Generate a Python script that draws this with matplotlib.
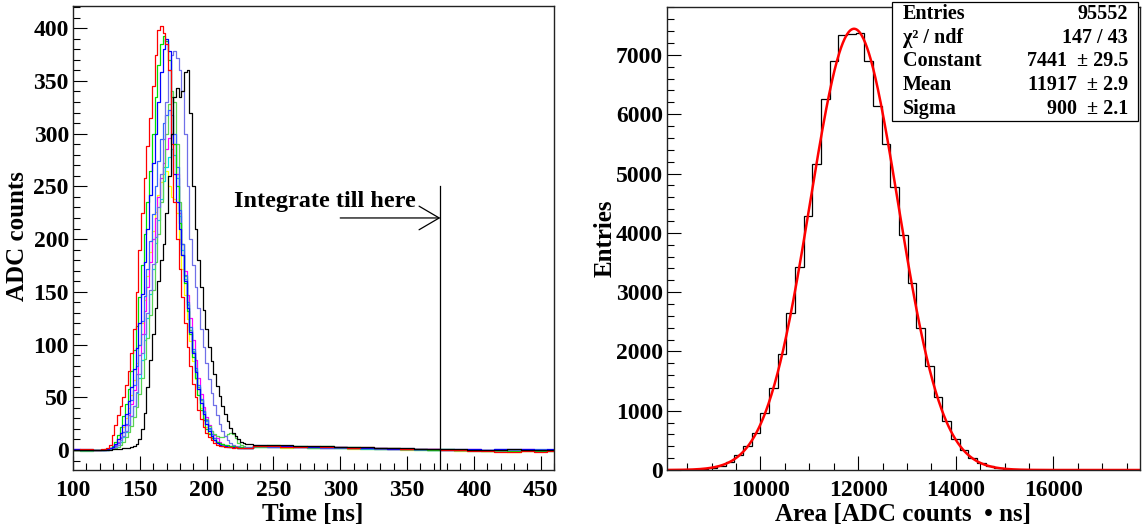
import numpy as np
import matplotlib
matplotlib.use("Agg")
import matplotlib.pyplot as plt
from matplotlib.ticker import MultipleLocator
from matplotlib.patches import Rectangle

plt.rcParams['font.family'] = ['Liberation Serif', 'DejaVu Serif']
plt.rcParams['font.weight'] = 'bold'

# ---------------- waveform data (ADC counts) ----------------
# sampling grid: coarse before the pulse, 2 ns across the pulse, coarse tail
t_pre = np.arange(100, 120, 10)
t_pulse = np.arange(120, 232, 2)
t_tail = np.arange(240, 470, 10)

red_pre = [0, 1]
red_pulse = [0, 1, 1, 2, 5, 14, 24, 33,
             42, 50, 62, 75, 92, 115, 150, 190,
             225, 258, 288, 315, 345, 375, 398, 402,
             395, 385, 360, 290, 235, 200, 172, 145,
             120, 98, 80, 63, 50, 38, 29, 22,
             16, 12, 9, 7, 5, 4, 4, 3,
             3, 3, 2, 3, 2, 2, 2, 2]
red_tail = [4, 4, 3, 3, 4, 3, 3, 2, 3, 2, 2, 1, 1, 1, 0, 0, -1, -1, -2, -2, -1, -2, -1]

green_pre = [0, 0]
green_pulse = [0, 0, 1, 1, 2, 4, 8, 14,
               22, 32, 44, 58, 75, 95, 118, 145,
               175, 205, 235, 265, 300, 335, 365, 385,
               393, 388, 370, 335, 290, 250, 215, 185,
               158, 132, 110, 88, 68, 52, 38, 28,
               20, 15, 11, 9, 8, 7, 6, 5,
               5, 4, 4, 3, 3, 3, 2, 2]
green_tail = [4, 5, 4, 4, 3, 4, 3, 3, 2, 2, 2, 1, 1, 0, 1, 0, 0, -1, 0, -1, 0, -1, 0]

blue_pre = [1, 0]
blue_pulse = [0, 0, 0, 1, 2, 3, 6, 10,
              16, 24, 34, 46, 60, 77, 97, 120,
              148, 178, 210, 242, 272, 300, 330, 358,
              380, 390, 378, 300, 262, 235, 210, 185,
              160, 135, 112, 92, 74, 58, 45, 34,
              25, 18, 13, 9, 7, 5, 4, 4,
              3, 3, 3, 3, 2, 2, 2, 2]
blue_tail = [4, 4, 4, 3, 3, 3, 3, 2, 2, 2, 1, 1, 1, 1, 0, 1, 1, 0, 1, 1, 1, 0, 1]

violet_pre = [0, 0]
violet_pulse = [0, 0, 0, 0, 1, 2, 3, 5,
                9, 13, 18, 24, 32, 42, 55, 72,
                92, 110, 130, 152, 176, 202, 230, 262,
                295, 330, 360, 375, 378, 372, 360, 340,
                300, 250, 200, 175, 155, 135, 115, 98,
                82, 67, 54, 43, 33, 25, 18, 13,
                9, 7, 5, 4, 4, 3, 3, 3]
violet_tail = [5, 4, 4, 4, 3, 3, 3, 3, 2, 2, 2, 2, 1, 1, 1, 0, 0, 0, 1, 0, 0, 0, 0]

black_pre = [0, 0]
black_pulse = [0, 0, 0, 0, 0, 1, 1, 1,
               1, 2, 2, 2, 3, 4, 6, 10,
               20, 35, 60, 85, 110, 135, 160, 180,
               195, 225, 260, 300, 335, 343, 335, 340,
               358, 360, 320, 250, 210, 180, 155, 133,
               115, 98, 84, 72, 61, 51, 42, 34,
               27, 21, 16, 13, 10, 8, 7, 6]
black_tail = [5, 5, 5, 4, 4, 4, 3, 3, 3, 2, 2, 2, 1, 1, 1, 1, 0, 0, 0, 1, 0, 0, 0]

lgreen_pre = [0, -1]
lgreen_pulse = [0, 0, 0, 0, 1, 1, 2, 3,
                5, 8, 12, 17, 23, 31, 41, 53,
                68, 86, 106, 128, 152, 178, 205, 235,
                268, 300, 328, 340, 330, 290, 235, 195,
                165, 138, 114, 93, 75, 60, 47, 37,
                29, 23, 18, 15, 13, 12, 12, 13,
                15, 16, 15, 11, 7, 5, 4, 3]
lgreen_tail = [3, 3, 3, 3, 2, 3, 2, 2, 2, 1, 1, 1, 1, 0, 0, 0, 0, -1, -1, 0, -1, 0, -1]

magenta_pre = [1, 0]
magenta_pulse = [0, 0, 0, 1, 2, 3, 5, 8,
                 12, 17, 24, 33, 44, 57, 72, 90,
                 110, 132, 155, 178, 200, 220, 240, 258,
                 272, 285, 296, 300, 290, 262, 225, 195,
                 170, 147, 125, 104, 85, 68, 53, 41,
                 31, 24, 18, 14, 11, 8, 6, 5,
                 4, 4, 3, 3, 3, 2, 2, 2]
magenta_tail = [4, 3, 4, 3, 3, 2, 3, 2, 2, 2, 1, 1, 1, 1, 0, 0, 1, 0, 0, 0, 1, 0, 0]

cyan_pre = [0, 0]
cyan_pulse = [0, 0, 0, 0, 1, 2, 3, 5,
              8, 12, 17, 24, 32, 42, 54, 68,
              85, 104, 125, 148, 172, 196, 218, 238,
              255, 268, 278, 285, 280, 258, 222, 190,
              162, 137, 114, 94, 76, 60, 47, 36,
              27, 20, 15, 11, 8, 6, 5, 4,
              4, 3, 3, 3, 2, 2, 2, 2]
cyan_tail = [3, 3, 3, 3, 2, 2, 2, 2, 1, 1, 1, 1, 0, 0, 0, 0, -1, 0, -1, 0, 0, 0, -1]

yellow_pre = [0, 0]
yellow_pulse = [0, 0, 0, 1, 2, 3, 6, 10,
                15, 22, 30, 40, 52, 66, 82, 100,
                120, 142, 165, 188, 208, 226, 242, 254,
                262, 265, 250, 240, 238, 225, 200, 172,
                147, 124, 103, 84, 67, 52, 40, 30,
                22, 16, 12, 9, 7, 5, 4, 4,
                3, 3, 3, 2, 2, 2, 2, 2]
yellow_tail = [3, 3, 2, 3, 2, 2, 2, 1, 1, 1, 1, 0, 0, 0, 0, -1, -1, -1, -1, -2, -1, -1, -1]

azure_pre = [0, 1]
azure_pulse = [0, 0, 0, 0, 1, 2, 4, 7,
               11, 17, 25, 35, 47, 62, 80, 100,
               122, 146, 172, 198, 224, 250, 274, 295,
               310, 318, 322, 318, 300, 268, 228, 195,
               166, 140, 117, 96, 78, 62, 48, 37,
               28, 21, 15, 11, 8, 6, 5, 4,
               4, 3, 3, 3, 2, 2, 2, 2]
azure_tail = [4, 3, 3, 3, 3, 2, 2, 2, 2, 1, 1, 1, 1, 0, 1, 0, 0, 0, 0, 0, 0, 1, 0]

traces = [
    ("#ffff00", yellow_pre, yellow_pulse, yellow_tail),
    ("#00e0e0", cyan_pre, cyan_pulse, cyan_tail),
    ("#ff00ff", magenta_pre, magenta_pulse, magenta_tail),
    ("#59d354", lgreen_pre, lgreen_pulse, lgreen_tail),
    ("#3366ff", azure_pre, azure_pulse, azure_tail),
    ("#7070e8", violet_pre, violet_pulse, violet_tail),
    ("#00e000", green_pre, green_pulse, green_tail),
    ("#0000ff", blue_pre, blue_pulse, blue_tail),
    ("#ff0000", red_pre, red_pulse, red_tail),
    ("#000000", black_pre, black_pulse, black_tail),
]

integration_end = 375  # ns

# ---------------- charge spectrum ----------------
bin_start = 8045.0
bin_width = 177.5
area_counts = [0, 1, 3, 8, 17, 38, 75, 135, 245, 400,
               630, 965, 1390, 1960, 2640, 3420, 4280, 5160, 6250, 6890,
               7340, 7345, 7370, 6900, 6130, 5500, 4780, 3960, 3150, 2400,
               1760, 1230, 820, 530, 330, 200, 115, 64, 34, 17,
               8, 4, 2, 1, 0, 0, 0, 0, 0, 0,
               0, 0, 0, 0, 0]
fit_constant = 7441
fit_mean = 11917
fit_sigma = 900

stat_labels = ["Entries", "χ² / ndf", "Constant", "Mean", "Sigma"]
stat_values = ["95552", "147 / 43", "7441  ± 29.5", "11917  ± 2.9", "900  ± 2.1"]

# ---------------- figure ----------------
W, H = 1144, 529
fig = plt.figure(figsize=(W / 100, H / 100), dpi=100)


def px_axes(x0, y0, x1, y1):
    return fig.add_axes([x0 / W, 1 - y1 / H, (x1 - x0) / W, (y1 - y0) / H])


ax1 = px_axes(73, 6, 554, 470)
ax2 = px_axes(667, 6.7, 1140, 470)

for ax in (ax1, ax2):
    ax.tick_params(which='both', direction='in', top=False, right=False,
                   labelsize=17, width=0.8, color='black')
    ax.tick_params(which='major', length=10)
    ax.tick_params(which='minor', length=5)
    ax.tick_params(axis='x', which='both', pad=7)
    ax.tick_params(axis='y', which='both', pad=3)
    for s in ax.spines.values():
        s.set_linewidth(1.0)
        s.set_color('#222222')

# left: waveforms
for color, pre, pulse, tail in traces:
    t = np.concatenate([t_pre, t_pulse, t_tail])
    v = np.concatenate([pre, pulse, tail])
    ax1.plot(t, v, drawstyle='steps-mid', color=color, lw=0.9)

ax1.set_xlim(100, 460)
ax1.set_ylim(-19, 421)
ax1.xaxis.set_major_locator(MultipleLocator(50))
ax1.xaxis.set_minor_locator(MultipleLocator(10))
ax1.yaxis.set_major_locator(MultipleLocator(50))
ax1.yaxis.set_minor_locator(MultipleLocator(10))

ax1.plot([integration_end, integration_end], [-19, 250], color='black', lw=0.9)
ax1.annotate("", xy=(integration_end, 220), xytext=(300, 220),
             arrowprops=dict(arrowstyle="->,head_length=1.45,head_width=0.85",
                             color='black', lw=0.9, shrinkA=0, shrinkB=0))
ax1.text(220.5, 230, "Integrate till here", fontsize=17.5, fontweight='bold',
         ha='left', va='baseline')

# right: spectrum with gaussian fit
edges = bin_start + bin_width * np.arange(len(area_counts) + 1)
ax2.stairs(area_counts, edges, color='black', lw=0.9)
xf = np.linspace(edges[0], 17775, 800)
ax2.plot(xf, fit_constant * np.exp(-0.5 * ((xf - fit_mean) / fit_sigma) ** 2),
         color='#ff0000', lw=1.8)
ax2.set_xlim(8085, 17775)
ax2.set_ylim(0, 7813)
ax2.xaxis.set_major_locator(MultipleLocator(2000))
ax2.xaxis.set_minor_locator(MultipleLocator(500))
ax2.yaxis.set_major_locator(MultipleLocator(1000))
ax2.yaxis.set_minor_locator(MultipleLocator(200))

# axis titles
fig.text(313 / W, 1 - 514 / H, "Time [ns]", fontsize=18, ha='center', va='center')
fig.text(18 / W, 1 - 236 / H, "ADC counts", fontsize=18, ha='center', va='center', rotation=90)
fig.text(903 / W, 1 - 514 / H, "Area [ADC counts  • ns]", fontsize=18, ha='center', va='center')
fig.text(605 / W, 1 - 238 / H, "Entries", fontsize=18, ha='center', va='center', rotation=90)

# statistics box
bx0, by0, bx1, by1 = 892, 2, 1138, 121
fig.add_artist(Rectangle((bx0 / W, 1 - by1 / H), (bx1 - bx0) / W, (by1 - by0) / H,
                         transform=fig.transFigure, facecolor='white',
                         edgecolor='black', lw=0.9, zorder=5))
row_h = (by1 - by0) / len(stat_labels)
for i, (lab, val) in enumerate(zip(stat_labels, stat_values)):
    yc = 1 - (by0 + row_h * (i + 0.5)) / H
    fig.text(903 / W, yc, lab, fontsize=14.5, ha='left', va='center', zorder=6)
    fig.text(1128 / W, yc, val, fontsize=14.5, ha='right', va='center', zorder=6)

fig.savefig("out.png", dpi=100)
